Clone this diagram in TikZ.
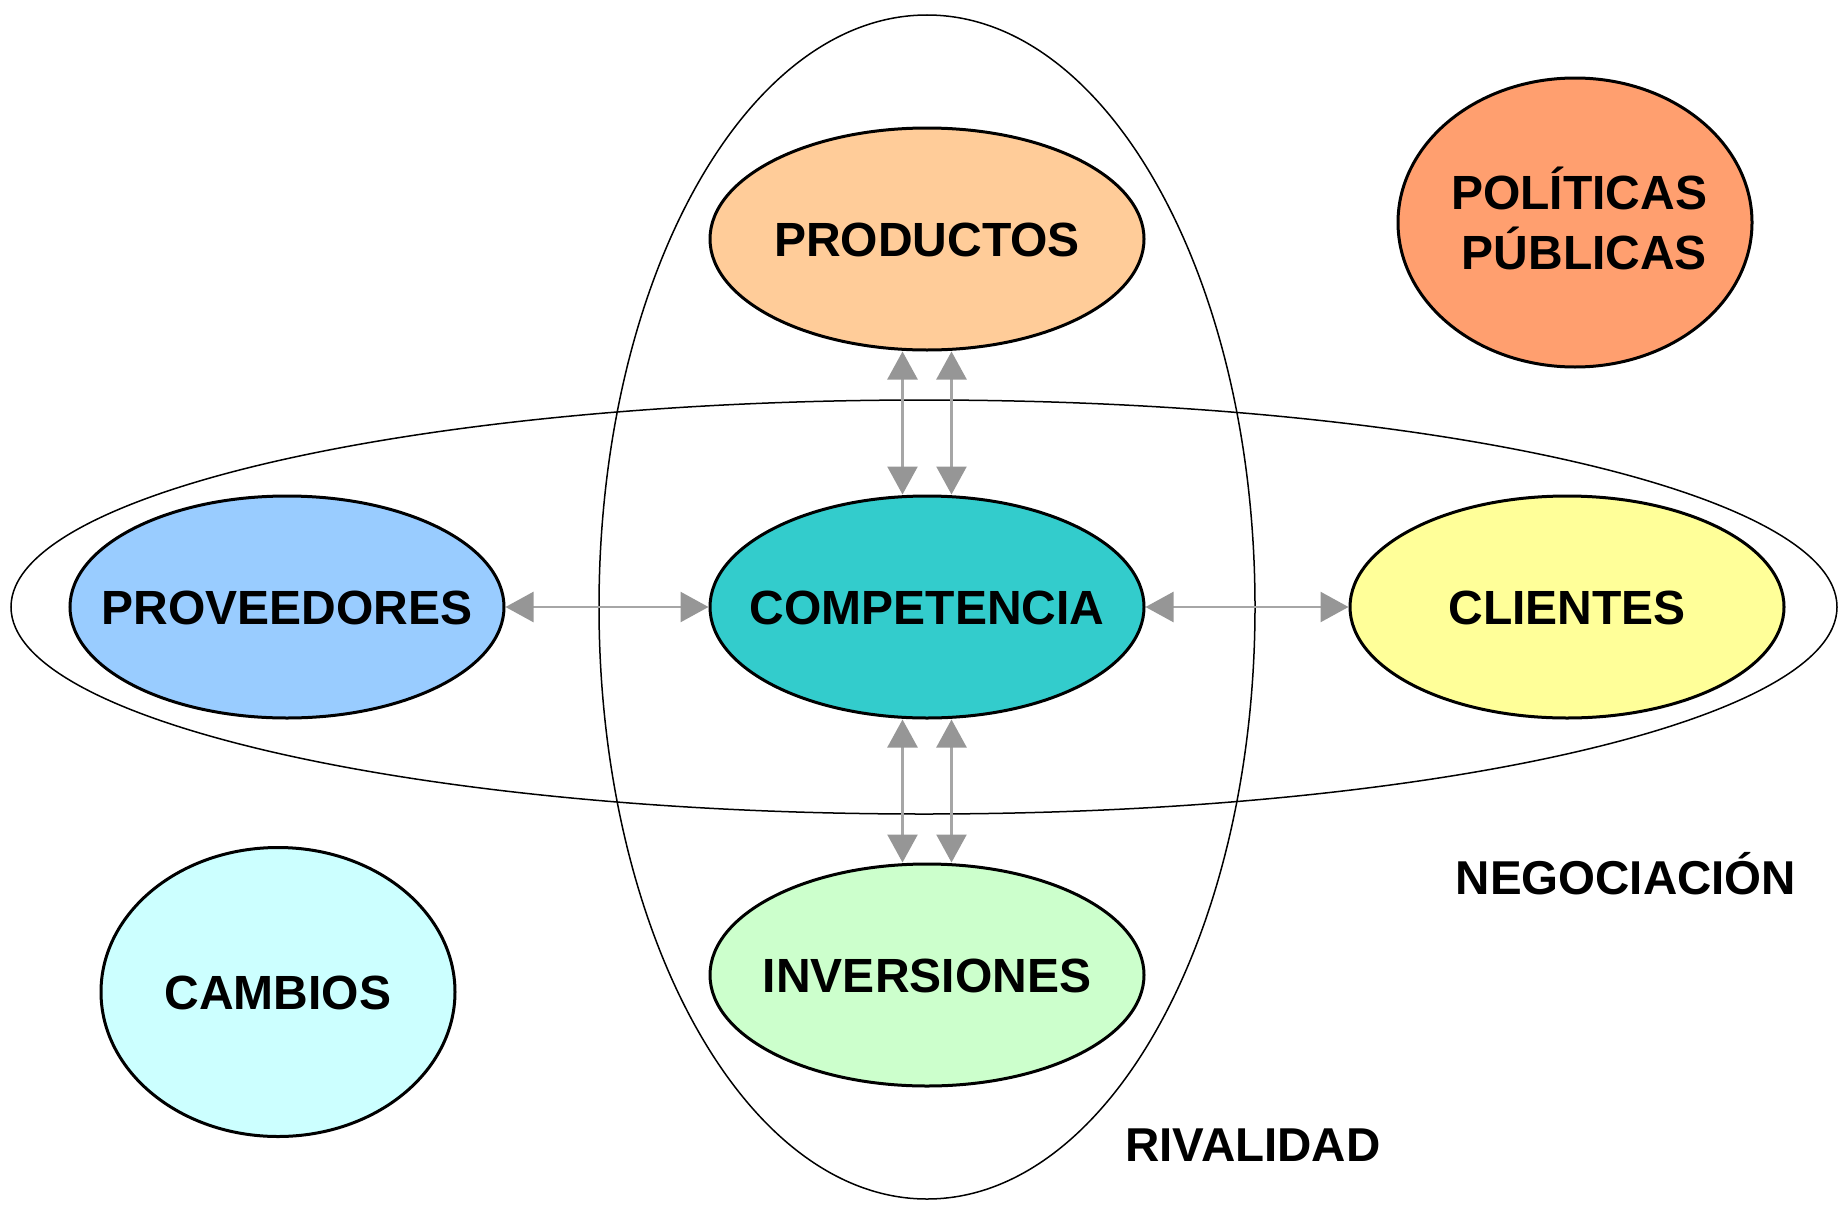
\documentclass[tikz,border=0pt]{standalone}
\usepackage{fontspec}
\setmainfont{Liberation Sans}
\usetikzlibrary{shapes.geometric,arrows.meta,calc}
\definecolor{cprod}{HTML}{FFCC99}
\definecolor{ccomp}{HTML}{33CCCC}
\definecolor{cinv}{HTML}{CCFFCC}
\definecolor{cprov}{HTML}{99CCFF}
\definecolor{ccli}{HTML}{FFFF99}
\definecolor{cpol}{HTML}{FF9F6F}
\definecolor{ccam}{HTML}{CCFFFF}
\definecolor{linegray}{HTML}{A6A6A6}
\definecolor{tipgray}{HTML}{969696}
\newcommand\ctext[1]{\makebox[0pt]{\smash{\raisebox{-17.2pt}{#1}}}}
\tikzset{
  blob/.style={ellipse, draw=black, line width=3pt, inner sep=0pt,
    minimum width=434pt, minimum height=222pt,
    font=\fontsize{48}{57}\selectfont\bfseries},
  smallblob/.style={blob, minimum width=354pt, minimum height=289pt},
  outer/.style={draw=black, line width=1.5pt},
  lbl/.style={font=\fontsize{47.5}{57}\selectfont\bfseries, inner sep=0pt},
  link/.style={draw=linegray, line width=2.5pt,
    {Triangle[length=28pt,width=30pt,color=tipgray]}-{Triangle[length=28pt,width=30pt,color=tipgray]}}
}
\begin{document}
\begin{tikzpicture}[x=1pt,y=-1pt]
\useasboundingbox (0,0) rectangle (1838,1207);
% big outlines
\draw[outer] (927,607) ellipse [x radius=328pt, y radius=592pt];
\draw[outer] (924,607) ellipse [x radius=913pt, y radius=207pt];
% nodes
\node[blob, fill=cprod] (prod) at (927,239) {\ctext{PRODUCTOS}};
\node[blob, fill=ccomp] (comp) at (927,607) {\ctext{COMPETENCIA}};
\node[blob, fill=cinv]  (inv)  at (927,975) {\ctext{INVERSIONES}};
\node[blob, fill=cprov] (prov) at (287,607) {\ctext{PROVEEDORES}};
\node[blob, fill=ccli]  (cli)  at (1567,607) {\ctext{CLIENTES}};
\node[smallblob, fill=cpol] (pol) at (1575,222.5)
  {\makebox[0pt]{\smash{\makebox[264pt][r]{\raisebox{12.8pt}[0pt][0pt]{\begin{tabular}[t]{@{}r@{}}POLÍTICAS\\PÚBLICAS\end{tabular}}}}}};
\node[smallblob, fill=ccam] (cam) at (278,992) {\ctext{CAMBIOS}};
% labels
\node[lbl] (neg) at (1626,874) {NEGOCIACIÓN};
\node[lbl] (riv) at (1253,1145) {RIVALIDAD};
% connectors
\draw[link] ([xshift=-24.5pt]prod.south) -- ([xshift=-24.5pt]comp.north);
\draw[link] ([xshift=24.5pt]prod.south) -- ([xshift=24.5pt]comp.north);
\draw[link] ([xshift=-24.5pt]comp.south) -- ([xshift=-24.5pt]inv.north);
\draw[link] ([xshift=24.5pt]comp.south) -- ([xshift=24.5pt]inv.north);
\draw[link] (prov.east) -- (comp.west);
\draw[link] (comp.east) -- (cli.west);
\end{tikzpicture}
\end{document}
